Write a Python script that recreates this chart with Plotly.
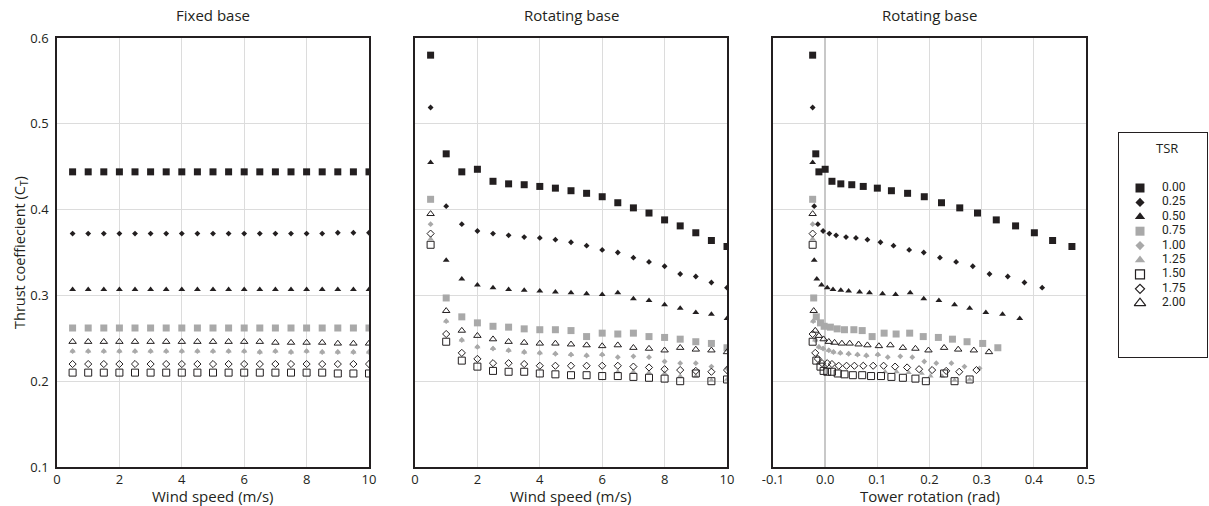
import plotly.graph_objects as go

# ---------------- data ----------------
tsr_labels = ["0.00", "0.25", "0.50", "0.75", "1.00", "1.25", "1.50", "1.75", "2.00"]

wind_speed = [0.5, 1.0, 1.5, 2.0, 2.5, 3.0, 3.5, 4.0, 4.5, 5.0,
              5.5, 6.0, 6.5, 7.0, 7.5, 8.0, 8.5, 9.0, 9.5, 10.0]

# Fixed base: thrust coefficient per TSR
fixed_000 = [0.444, 0.444, 0.444, 0.444, 0.444, 0.444, 0.444, 0.444, 0.444, 0.444,
             0.444, 0.444, 0.444, 0.444, 0.444, 0.444, 0.444, 0.444, 0.444, 0.444]
fixed_025 = [0.372, 0.372, 0.372, 0.372, 0.372, 0.372, 0.372, 0.372, 0.372, 0.372,
             0.372, 0.372, 0.372, 0.372, 0.372, 0.372, 0.372, 0.373, 0.373, 0.373]
fixed_050 = [0.307, 0.307, 0.307, 0.307, 0.307, 0.307, 0.307, 0.307, 0.307, 0.307,
             0.307, 0.307, 0.307, 0.307, 0.307, 0.307, 0.307, 0.307, 0.307, 0.307]
fixed_075 = [0.262, 0.262, 0.262, 0.262, 0.262, 0.262, 0.262, 0.262, 0.262, 0.262,
             0.262, 0.262, 0.262, 0.262, 0.262, 0.262, 0.262, 0.262, 0.262, 0.262]
fixed_100 = [0.235, 0.235, 0.235, 0.235, 0.235, 0.235, 0.235, 0.235, 0.235, 0.235,
             0.235, 0.235, 0.234, 0.235, 0.234, 0.235, 0.234, 0.234, 0.234, 0.234]
fixed_125 = [0.235, 0.235, 0.235, 0.235, 0.235, 0.235, 0.235, 0.235, 0.235, 0.235,
             0.235, 0.235, 0.234, 0.235, 0.234, 0.235, 0.234, 0.234, 0.234, 0.234]
fixed_150 = [0.210, 0.210, 0.210, 0.210, 0.210, 0.210, 0.210, 0.210, 0.210, 0.210,
             0.210, 0.210, 0.210, 0.210, 0.210, 0.210, 0.210, 0.209, 0.209, 0.209]
fixed_175 = [0.220, 0.220, 0.220, 0.220, 0.220, 0.220, 0.220, 0.220, 0.220, 0.220,
             0.220, 0.220, 0.220, 0.220, 0.220, 0.220, 0.220, 0.220, 0.220, 0.220]
fixed_200 = [0.246, 0.246, 0.246, 0.246, 0.246, 0.246, 0.246, 0.246, 0.246, 0.246,
             0.246, 0.246, 0.246, 0.245, 0.245, 0.245, 0.245, 0.244, 0.244, 0.244]

# Rotating base: thrust coefficient per TSR
rot_ct_000 = [0.580, 0.465, 0.444, 0.447, 0.433, 0.430, 0.429, 0.427, 0.425, 0.422,
              0.419, 0.415, 0.408, 0.402, 0.396, 0.388, 0.381, 0.373, 0.364, 0.357]
rot_ct_025 = [0.519, 0.404, 0.383, 0.375, 0.372, 0.370, 0.368, 0.367, 0.365, 0.362,
              0.358, 0.353, 0.350, 0.344, 0.339, 0.334, 0.325, 0.322, 0.315, 0.309]
rot_ct_050 = [0.455, 0.341, 0.319, 0.312, 0.309, 0.307, 0.306, 0.305, 0.304, 0.303,
              0.302, 0.301, 0.303, 0.296, 0.294, 0.289, 0.285, 0.280, 0.278, 0.273]
rot_ct_075 = [0.412, 0.297, 0.275, 0.268, 0.264, 0.263, 0.261, 0.260, 0.260, 0.259,
              0.252, 0.256, 0.255, 0.256, 0.252, 0.251, 0.249, 0.246, 0.244, 0.239]
rot_ct_100 = [0.383, 0.270, 0.248, 0.240, 0.238, 0.236, 0.234, 0.233, 0.232, 0.231,
              0.230, 0.231, 0.228, 0.229, 0.228, 0.223, 0.221, 0.221, 0.217, 0.215]
rot_ct_125 = [0.366, 0.270, 0.248, 0.240, 0.238, 0.236, 0.234, 0.233, 0.232, 0.231,
              0.230, 0.231, 0.211, 0.211, 0.210, 0.209, 0.206, 0.206, 0.201, 0.202]
rot_ct_150 = [0.359, 0.246, 0.224, 0.217, 0.212, 0.211, 0.211, 0.209, 0.208, 0.207,
              0.207, 0.206, 0.206, 0.205, 0.204, 0.203, 0.200, 0.209, 0.200, 0.202]
rot_ct_175 = [0.372, 0.255, 0.233, 0.226, 0.221, 0.221, 0.220, 0.218, 0.218, 0.218,
              0.218, 0.218, 0.218, 0.217, 0.216, 0.214, 0.213, 0.212, 0.211, 0.213]
rot_ct_200 = [0.395, 0.282, 0.259, 0.253, 0.249, 0.246, 0.245, 0.244, 0.244, 0.243,
              0.242, 0.241, 0.242, 0.239, 0.238, 0.236, 0.239, 0.237, 0.236, 0.234]

# Rotating base: tower rotation (rad) per TSR
tower_rot_000 = [-0.024, -0.018, -0.012, 0.000, 0.013, 0.030, 0.051, 0.073, 0.100, 0.127,
                 0.158, 0.190, 0.223, 0.258, 0.292, 0.328, 0.365, 0.401, 0.436, 0.473]
tower_rot_025 = [-0.024, -0.021, -0.014, -0.004, 0.008, 0.021, 0.040, 0.059, 0.081, 0.106,
                 0.131, 0.161, 0.189, 0.220, 0.251, 0.283, 0.315, 0.350, 0.382, 0.416]
tower_rot_050 = [-0.024, -0.021, -0.016, -0.007, 0.004, 0.015, 0.030, 0.045, 0.066, 0.085,
                 0.110, 0.135, 0.163, 0.189, 0.218, 0.248, 0.277, 0.308, 0.340, 0.373]
tower_rot_075 = [-0.024, -0.022, -0.017, -0.009, -0.002, 0.010, 0.023, 0.037, 0.055, 0.071,
                 0.090, 0.113, 0.136, 0.162, 0.188, 0.217, 0.244, 0.272, 0.302, 0.331]
tower_rot_100 = [-0.024, -0.023, -0.019, -0.012, -0.004, 0.007, 0.016, 0.029, 0.045, 0.062,
                 0.079, 0.101, 0.120, 0.144, 0.167, 0.190, 0.213, 0.242, 0.267, 0.296]
tower_rot_125 = [-0.024, -0.023, -0.019, -0.012, -0.004, 0.007, 0.016, 0.029, 0.045, 0.062,
                 0.079, 0.101, 0.115, 0.137, 0.160, 0.185, 0.202, 0.224, 0.248, 0.277]
tower_rot_150 = [-0.024, -0.024, -0.017, -0.009, -0.003, 0.004, 0.013, 0.024, 0.037, 0.053,
                 0.071, 0.088, 0.107, 0.127, 0.149, 0.173, 0.193, 0.228, 0.248, 0.277]
tower_rot_175 = [-0.024, -0.024, -0.019, -0.014, -0.006, 0.004, 0.013, 0.026, 0.041, 0.056,
                 0.073, 0.092, 0.112, 0.134, 0.157, 0.180, 0.205, 0.232, 0.257, 0.290]
tower_rot_200 = [-0.024, -0.022, -0.019, -0.012, -0.003, 0.007, 0.018, 0.032, 0.047, 0.064,
                 0.081, 0.103, 0.125, 0.149, 0.173, 0.198, 0.228, 0.255, 0.285, 0.314]

y_ticks = [0.1, 0.2, 0.3, 0.4, 0.5, 0.6]
y_ticktext = ["0.1", "0.2", "0.3", "0.4", "0.5", "0.6"]
wind_ticks = [0, 2, 4, 6, 8, 10]
wind_ticktext = ["0", "2", "4", "6", "8", "10"]
rot_ticks = [-0.1, 0.0, 0.1, 0.2, 0.3, 0.4, 0.5]
rot_ticktext = ["-0.1", "0.0", "0.1", "0.2", "0.3", "0.4", "0.5"]

# ---------------- styling ----------------
W, H = 1209, 506
FONT = "Open Sans"
KEY_FONT = "Roboto"
INK = "#231f20"
GRAY = "#a9a9a9"
GRID = "#dcdcdc"

fixed_ct = [fixed_000, fixed_025, fixed_050, fixed_075, fixed_100,
            fixed_125, fixed_150, fixed_175, fixed_200]
rot_ct = [rot_ct_000, rot_ct_025, rot_ct_050, rot_ct_075, rot_ct_100,
          rot_ct_125, rot_ct_150, rot_ct_175, rot_ct_200]
tower_rot = [tower_rot_000, tower_rot_025, tower_rot_050, tower_rot_075, tower_rot_100,
             tower_rot_125, tower_rot_150, tower_rot_175, tower_rot_200]

# symbol, colour, plot size, key size
styles = [
    ("square", INK, 7, 9),
    ("diamond", INK, 4.5, 7),
    ("triangle-up", INK, 6, 9),
    ("square", GRAY, 7, 9),
    ("diamond", GRAY, 4.5, 7),
    ("triangle-up", GRAY, 5.5, 9),
    ("square-open", INK, 7, 9),
    ("diamond-open", INK, 5.5, 7),
    ("triangle-up-open", INK, 6.5, 10),
]

# draw the 1.25 series first so the others sit on top of it
draw_order = [5, 0, 1, 2, 3, 4, 6, 7, 8]


def px_x(p):
    return p / W


def px_y(p):
    return 1 - p / H


panels = [  # left, right pixel bounds of each plot area
    (57, 369),
    (415, 727),
    (773, 1086),
]
top_px, bot_px = 38, 467

fig = go.Figure()

for i in draw_order:
    sym, col, size, _ = styles[i]
    mk = dict(symbol=sym, color=col, size=size, line=dict(width=1 if "open" in sym else 0, color=col))
    fig.add_trace(go.Scatter(x=wind_speed, y=fixed_ct[i], mode="markers", marker=mk,
                             xaxis="x", yaxis="y", showlegend=False, hoverinfo="skip"))
    fig.add_trace(go.Scatter(x=wind_speed, y=rot_ct[i], mode="markers", marker=mk,
                             xaxis="x2", yaxis="y2", showlegend=False, hoverinfo="skip"))
    fig.add_trace(go.Scatter(x=tower_rot[i], y=rot_ct[i], mode="markers", marker=mk,
                             xaxis="x3", yaxis="y3", showlegend=False, hoverinfo="skip"))

# key panel (axes in pixel units inside the box)
key_l, key_r, key_t, key_b = 1119, 1207, 133, 357
for i, lab in enumerate(tsr_labels):
    sym, col, _, lsize = styles[i]
    yk = 55 + i * 14.4
    fig.add_trace(go.Scatter(
        x=[21], y=[yk], mode="markers",
        marker=dict(symbol=sym, color=col, size=lsize,
                    line=dict(width=1.2 if "open" in sym else 0, color=col)),
        xaxis="x4", yaxis="y4", showlegend=False, hoverinfo="skip"))
    fig.add_trace(go.Scatter(
        x=[43], y=[yk], mode="text", text=[lab], textposition="middle right",
        textfont=dict(family=KEY_FONT, size=12, color=INK),
        xaxis="x4", yaxis="y4", showlegend=False, hoverinfo="skip"))

common_axis = dict(showline=True, mirror=True, linecolor=INK, linewidth=1.5,
                   showgrid=True, gridcolor=GRID, gridwidth=1, ticks="",
                   zeroline=False, automargin=False,
                   tickfont=dict(family=FONT, size=13, color=INK))
ydom = [px_y(bot_px), px_y(top_px)]

layout = dict(
    width=W, height=H,
    margin=dict(l=0, r=0, t=0, b=0),
    paper_bgcolor="white", plot_bgcolor="white",
    showlegend=False,
    font=dict(family=FONT, color=INK),
)
for k, (l, r) in enumerate(panels):
    sfx = "" if k == 0 else str(k + 1)
    xa = dict(common_axis, domain=[px_x(l), px_x(r)], anchor="y" + sfx)
    if k < 2:
        xa.update(range=[0, 10], tickvals=wind_ticks, ticktext=wind_ticktext)
    else:
        xa.update(range=[-0.1, 0.5], tickvals=rot_ticks, ticktext=rot_ticktext,
                  zeroline=True, zerolinecolor="#c8c8c8", zerolinewidth=2)
    ya = dict(common_axis, domain=ydom, anchor="x" + sfx, range=[0.1, 0.6],
              tickvals=y_ticks, ticktext=y_ticktext, showticklabels=(k == 0),
              ticklabelstandoff=4)
    layout["xaxis" + sfx] = xa
    layout["yaxis" + sfx] = ya

layout["xaxis4"] = dict(domain=[px_x(key_l), px_x(key_r)], range=[0, key_r - key_l],
                        anchor="y4", showline=True, mirror=True, linecolor=INK, linewidth=1,
                        showgrid=False, zeroline=False, showticklabels=False, ticks="",
                        fixedrange=True)
layout["yaxis4"] = dict(domain=[px_y(key_b), px_y(key_t)], range=[key_b - key_t, 0],
                        anchor="x4", showline=True, mirror=True, linecolor=INK, linewidth=1,
                        showgrid=False, zeroline=False, showticklabels=False, ticks="",
                        fixedrange=True)

ann = []
titles = ["Fixed base", "Rotating base", "Rotating base"]
xtitles = ["Wind speed (m/s)", "Wind speed (m/s)", "Tower rotation (rad)"]
for (l, r), t, xt in zip(panels, titles, xtitles):
    cx = px_x((l + r) / 2)
    ann.append(dict(text=t, x=cx, y=px_y(15), xref="paper", yref="paper",
                    showarrow=False, xanchor="center", yanchor="middle",
                    font=dict(family=FONT, size=15, color=INK)))
    ann.append(dict(text=xt, x=cx, y=px_y(496), xref="paper", yref="paper",
                    showarrow=False, xanchor="center", yanchor="middle",
                    font=dict(family=FONT, size=15, color=INK)))
ann.append(dict(text="Thrust coeffiecient (C<sub>T</sub>)", x=px_x(20), y=px_y(253),
                xref="paper", yref="paper", showarrow=False, textangle=-90,
                xanchor="center", yanchor="middle",
                font=dict(family=FONT, size=14.5, color=INK)))
ann.append(dict(text="TSR", x=px_x(1167), y=px_y(148), xref="paper", yref="paper",
                showarrow=False, xanchor="center", yanchor="middle",
                font=dict(family=FONT, size=13, color=INK)))
layout["annotations"] = ann

fig.update_layout(**layout)
fig.write_html("out.html")
